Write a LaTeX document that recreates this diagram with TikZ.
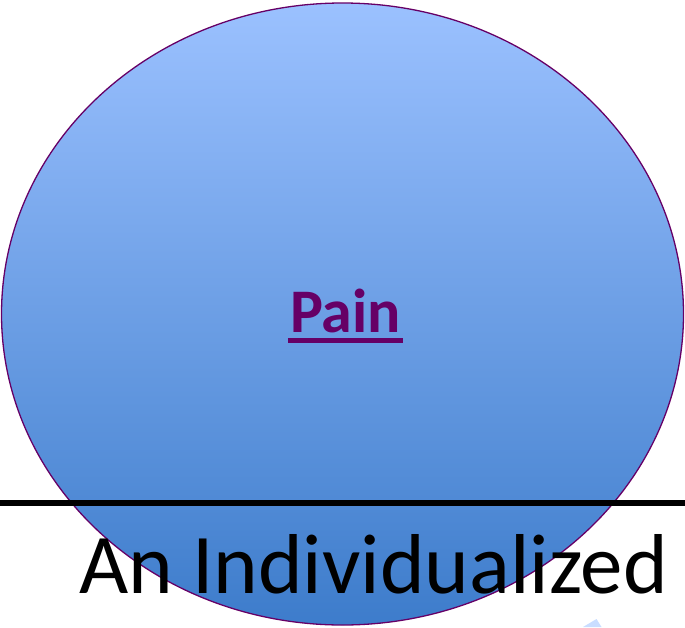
\documentclass[tikz,border=0pt]{standalone}
\usepackage{fontspec}
\setmainfont{Carlito}
\usetikzlibrary{shapes.geometric,calc}
\definecolor{bubbletop}{HTML}{9BC1FF}
\definecolor{bubblebottom}{HTML}{3D7CCB}
\definecolor{bubbleedge}{HTML}{660066}
\definecolor{faintblue}{HTML}{C9DDFF}
\tikzset{
  bubble/.style={ellipse, draw=bubbleedge, line width=1.3pt, inner sep=0pt,
                 minimum width=682, minimum height=622,
                 top color=bubbletop, bottom color=bubblebottom},
  painlabel/.style={font=\fontsize{62}{62}\selectfont\bfseries, text=bubbleedge,
                    inner sep=0pt, anchor=base},
  titlelabel/.style={font=\fontsize{85}{85}\selectfont, text=black,
                     inner sep=0pt, anchor=base west},
}

\begin{document}
\begin{tikzpicture}[x=1pt, y=-1pt]
    \useasboundingbox (0,0) rectangle (685,627);
    \node[bubble] (bubble) at (342.5, 314) {};
    \node[painlabel] (pain) at (345.5, 332) {Pain};
    \draw[bubbleedge, line width=5pt] ($(pain.base west)+(-2,8.5)$) -- ($(pain.base east)+(2,8.5)$);
    \coordinate (rulel) at (0, 503);
    \coordinate (ruler) at (685, 503);
    \draw[black, line width=5.5pt] (rulel) -- (ruler);
    \node[titlelabel] (title) at (79, 593) {An Individualized};
    \fill[faintblue] (583, 627) -- (596.5, 619) -- (601.5, 627) -- cycle;
  \end{tikzpicture}
\end{document}
